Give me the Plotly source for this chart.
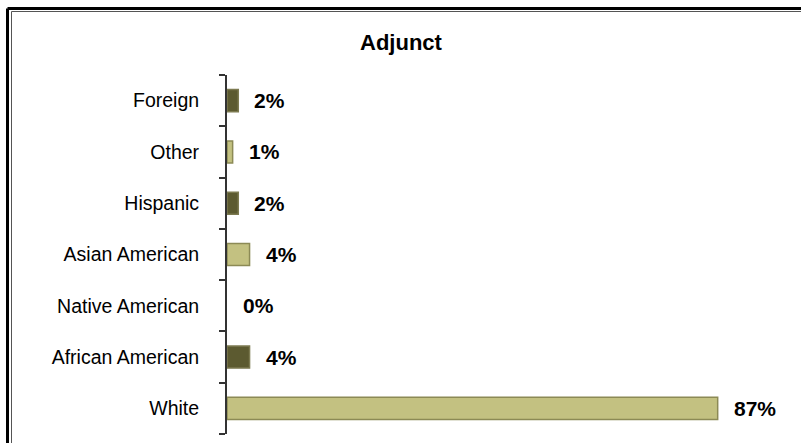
import plotly.graph_objects as go

categories = ["White", "African American", "Native American", "Asian American", "Hispanic", "Other", "Foreign"]
values = [87, 4, 0, 4, 2, 1, 2]
value_labels = ["87%", "4%", "0%", "4%", "2%", "1%", "2%"]
title_text = "Adjunct"

LIGHT = "#c3c181"
LIGHT_LINE = "#8c8a55"
DARK = "#5c5a30"
DARK_LINE = "#7c7a50"
shade = ["L", "D", "D", "L", "D", "L", "D"]
colors = [LIGHT if s == "L" else DARK for s in shade]
line_colors = [LIGHT_LINE if s == "L" else DARK_LINE for s in shade]
line_widths = [1.5 if v > 0 else 0 for v in values]

W, H = 801, 443
L, R, T, B = 227, 10, 75, 9

fig = go.Figure()
fig.add_trace(go.Bar(
    y=categories, x=values, orientation="h",
    marker=dict(color=colors, line=dict(color=line_colors, width=line_widths)),
    width=0.43, hoverinfo="skip",
))

for c, v, t in zip(categories, values, value_labels):
    fig.add_annotation(x=v, y=c, text=t, showarrow=False, xanchor="left",
                       xshift=14, font=dict(family="Arial", size=21, color="#000", weight="bold"),
                       xref="x", yref="y")

def px_x(p):
    return (p - L) / (W - L - R)

def px_y(p):
    return 1 - (p - T) / (H - T - B)

shapes = [
    dict(type="line", xref="paper", yref="paper", x0=px_x(7.5), x1=px_x(W + 5), y0=px_y(8.5), y1=px_y(8.5),
         line=dict(color="#000", width=3)),
    dict(type="line", xref="paper", yref="paper", x0=px_x(7.5), x1=px_x(7.5), y0=px_y(8.5), y1=px_y(H + 5),
         line=dict(color="#000", width=3)),
    dict(type="line", xref="paper", yref="paper", x0=px_x(11.5), x1=px_x(W + 5), y0=px_y(11.5), y1=px_y(11.5),
         line=dict(color="#555", width=1)),
    dict(type="line", xref="paper", yref="paper", x0=px_x(11.5), x1=px_x(11.5), y0=px_y(11.5), y1=px_y(H + 5),
         line=dict(color="#555", width=1)),
]

fig.update_layout(
    width=W, height=H,
    margin=dict(l=L, r=R, t=T, b=B),
    paper_bgcolor="white", plot_bgcolor="white",
    showlegend=False,
    title=dict(text="<b>" + title_text + "</b>", x=px_x(401), xref="paper", xanchor="center",
               y=1 - 42 / H, yanchor="middle",
               font=dict(family="Arial", size=22, color="#000")),
    shapes=shapes,
    xaxis=dict(range=[0, 100], visible=False, fixedrange=True),
    yaxis=dict(categoryorder="array", categoryarray=categories,
               showline=True, linecolor="#333", linewidth=2,
               ticks="outside", tickson="boundaries", ticklen=6, tickcolor="#333", tickwidth=2,
               ticklabelstandoff=22, fixedrange=True,
               tickfont=dict(family="Arial", size=19.5, color="#000"),
               showgrid=False, zeroline=False),
)

fig.write_html("out.html", config={"displayModeBar": False, "staticPlot": True},
               post_script="document.body.style.margin='0';document.body.style.overflow='hidden';")
